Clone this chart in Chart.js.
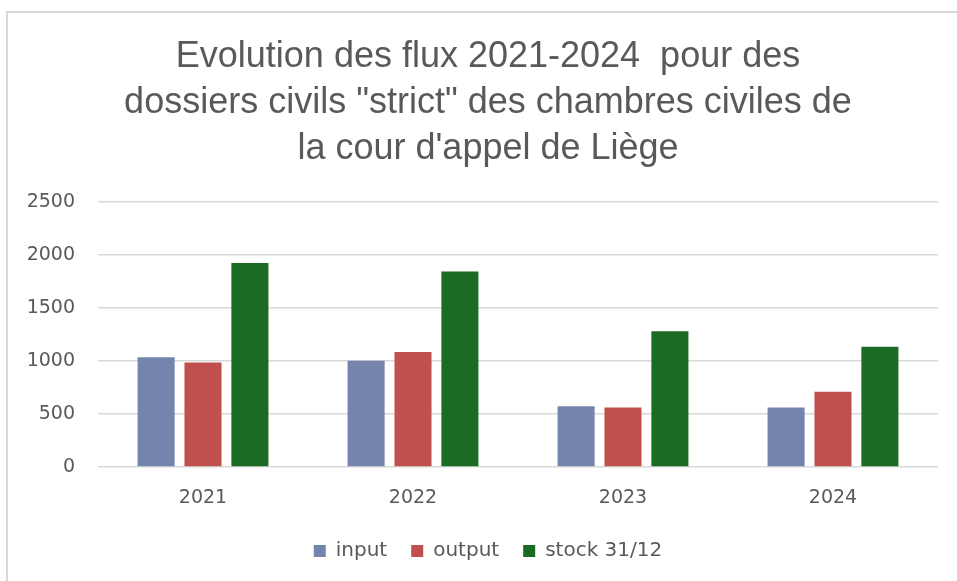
<!DOCTYPE html>
<html>
<head>
<meta charset="utf-8">
<script src="https://cdn.jsdelivr.net/npm/chart.js@4"></script>
<style>
    html, body { margin: 0; padding: 0; background: #fff; }
    body { width: 957px; height: 581px; position: relative; overflow: hidden; }
    #frame {
        position: absolute; left: 6px; top: 11px; right: 0; bottom: 0;
        border-top: 2px solid #d9d9d9;
        border-left: 2px solid #d9d9d9;
    }
    /* canvas runs a bit past the window so title and legend centre like the reference */
    #wrap { position: absolute; left: 9px; top: 14px; width: 958px; height: 567px; }
</style>
</head>
<body>
<div id="frame"></div>
<div id="wrap"><canvas id="fluxChart"></canvas></div>
<script>
// Data
const years = ['2021', '2022', '2023', '2024'];
const inputValues = [1036, 1002, 574, 561];
const outputValues = [986, 1084, 561, 710];
const stockValues = [1924, 1844, 1280, 1135];
const yTicks = [0, 500, 1000, 1500, 2000, 2500];

const chartTitle = [
    'Evolution des flux 2021-2024  pour des',
    'dossiers civils "strict" des chambres civiles de',
    'la cour d\'appel de Liège'
];

const textColor = '#595959';
const gridColor = '#d9d9d9';
const titleFont = "'Liberation Sans', Arial, sans-serif";
const labelFont = "'DejaVu Sans', sans-serif";

function buildFluxChart() {
    const ctx = document.getElementById('fluxChart');

    const chartData = {
        labels: years,
        datasets: [
            { label: 'input', data: inputValues, backgroundColor: '#7584ad' },
            { label: 'output', data: outputValues, backgroundColor: '#c0504d' },
            { label: 'stock 31/12', data: stockValues, backgroundColor: '#1b6b24' }
        ]
    };

    const options = {
        responsive: true,
        maintainAspectRatio: false,
        animation: false,
        datasets: {
            bar: {
                categoryPercentage: 0.67,
                barPercentage: 0.79
            }
        },
        layout: {
            padding: { top: 0, right: 0, bottom: 10, left: 0 }
        },
        plugins: {
            title: {
                display: true,
                text: chartTitle,
                color: textColor,
                font: { family: titleFont, size: 36, weight: 'normal', lineHeight: 46 / 36 },
                padding: { top: 20, bottom: 30 }
            },
            legend: {
                display: true,
                position: 'bottom',
                labels: {
                    color: textColor,
                    font: { family: labelFont, size: 20 },
                    boxWidth: 12,
                    boxHeight: 12,
                    padding: 24
                }
            },
            tooltip: { enabled: false }
        },
        scales: {
            x: {
                grid: { display: false },
                border: { display: false },
                ticks: {
                    color: textColor,
                    font: { family: labelFont, size: 19 },
                    padding: 12
                },
                afterFit: function(scale) {
                    scale.height = 50;
                }
            },
            y: {
                min: 0,
                max: 2500,
                afterBuildTicks: function(scale) {
                    scale.ticks = yTicks.map(v => ({ value: v }));
                },
                grid: {
                    color: gridColor,
                    lineWidth: 1.5,
                    drawTicks: false
                },
                border: { display: false },
                ticks: {
                    color: textColor,
                    font: { family: labelFont, size: 19 },
                    padding: 23,
                    callback: function(value) {
                        return String(value);
                    }
                },
                afterFit: function(scale) {
                    scale.width = 89;
                }
            },
            // empty right-hand spacer, keeps the plot clear of the right edge
            spacer: {
                type: 'linear',
                position: 'right',
                display: true,
                grid: { display: false },
                border: { display: false },
                ticks: { display: false },
                afterFit: function(scale) {
                    scale.width = 29;
                }
            }
        }
    };

    return new Chart(ctx, { type: 'bar', data: chartData, options: options });
}

buildFluxChart();
</script>
</body>
</html>
